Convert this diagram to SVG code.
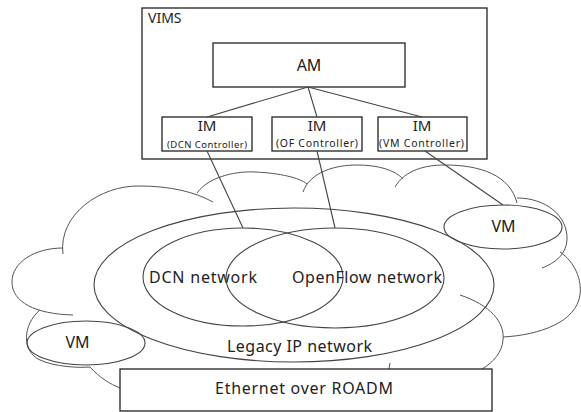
<svg xmlns="http://www.w3.org/2000/svg" width="581" height="412" viewBox="0 0 581 412">
<style>
.box{fill:#fff;stroke:#222;stroke-width:1.3}
.ell{fill:none;stroke:#444;stroke-width:1.1}
.cl{fill:none;stroke:#555;stroke-width:1}
.ln{fill:none;stroke:#444;stroke-width:1.1}
text{font-family:"Noto Sans","Liberation Sans",sans-serif;fill:#222}
.big{font-size:16px}
.im{font-size:15px}
.sm{font-size:10.5px}
</style>
<rect width="581" height="412" fill="#fff"/>
<g id="cloud">
<path class="cl" d="M63,254 C58,215 100,185 140,186 C170,186 195,192 213,202"/>
<path class="cl" d="M197,193 C210,175 240,171 255,172 C280,173 300,178 307,184"/>
<path class="cl" d="M303,192 C310,172 335,165 357,165 C378,165 395,170 403,179"/>
<path class="cl" d="M395,187 C405,170 425,165 445,165 C480,165 510,175 517,203"/>
<path class="cl" d="M517,198 C545,198 568,215 567,240 C566,255 555,263 542,268"/>
<path class="cl" d="M560,252 C575,262 582,280 580,295 C576,322 540,335 503,337"/>
<path class="cl" d="M460,295 C490,305 505,322 503,340 C502,352 494,362 482,369"/>
<path class="cl" d="M390,363 L389,369"/>
<path class="cl" d="M63,248 C35,248 12,262 12,282 C12,302 35,314 73,315"/>
<path class="cl" d="M40,310 C22,325 22,352 40,360 C55,367 80,368 90,367 C100,378 110,384 120,388"/>
</g>
<g id="legacy">
<ellipse class="ell" cx="294" cy="285" rx="200" ry="77"/>
<text class="big" x="227" y="352" textLength="145">Legacy IP network</text>
</g>
<g id="dcn">
<ellipse class="ell" cx="243" cy="277" rx="100" ry="49"/>
<text class="big" x="149" y="283" textLength="108">DCN network</text>
</g>
<g id="openflow">
<ellipse class="ell" cx="335" cy="278" rx="109" ry="50"/>
<text class="big" x="292" y="283" textLength="150">OpenFlow network</text>
</g>
<g id="vm-right">
<ellipse class="ell" cx="503" cy="227" rx="59" ry="22"/>
<text class="big" x="503.5" y="232" text-anchor="middle">VM</text>
</g>
<g id="vm-left">
<ellipse class="ell" cx="86" cy="343" rx="59" ry="22"/>
<text class="big" x="77.5" y="348" text-anchor="middle">VM</text>
</g>
<g id="roadm">
<rect class="box" x="120" y="369" width="372" height="42"/>
<text class="big" x="215" y="394" textLength="178">Ethernet over ROADM</text>
</g>
<g id="vims">
<rect class="box" x="142" y="8" width="345" height="151" fill="none"/>
<text x="148" y="23" style="font-size:14px">VIMS</text>
</g>
<g id="am">
<rect class="box" x="213" y="43" width="192" height="44"/>
<text class="big" x="309" y="71" text-anchor="middle">AM</text>
</g>
<g id="im-dcn">
<rect class="box" x="162" y="117" width="90" height="34"/>
<text class="im" x="207" y="131" text-anchor="middle">IM</text>
<text x="167" y="148" style="font-size:9.5px" textLength="80">(DCN Controller)</text>
</g>
<g id="im-of">
<rect class="box" x="272" y="117" width="90" height="34"/>
<text class="im" x="317" y="131" text-anchor="middle">IM</text>
<text class="sm" x="276" y="147" textLength="82">(OF Controller)</text>
</g>
<g id="im-vm">
<rect class="box" x="378" y="117" width="89" height="34"/>
<text class="im" x="422" y="131" text-anchor="middle">IM</text>
<text class="sm" x="379" y="147" textLength="85">(VM Controller)</text>
</g>
<g id="connectors">
<path class="ln" d="M308,87 L207,117"/>
<path class="ln" d="M308,87 L317,117"/>
<path class="ln" d="M308,87 L422,117"/>
<path class="ln" d="M207,151 L243,228"/>
<path class="ln" d="M317,151 L335,228"/>
<path class="ln" d="M425,151 L503,205"/>
</g>
</svg>
